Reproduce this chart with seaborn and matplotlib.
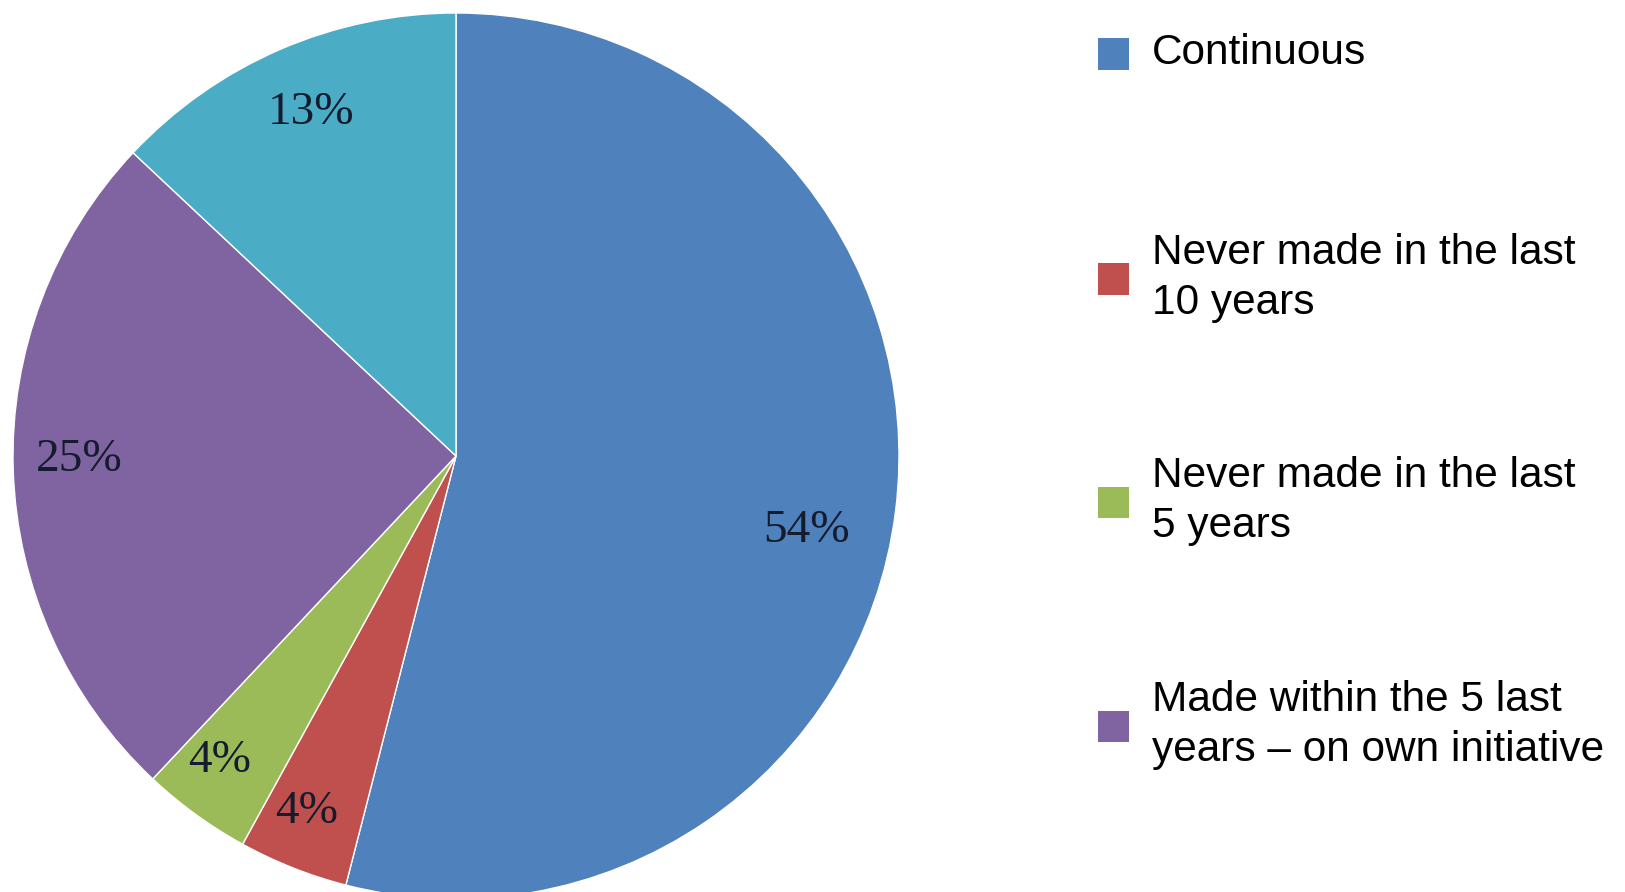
import numpy as np
import matplotlib
matplotlib.use("Agg")
import matplotlib.pyplot as plt
from matplotlib.patches import Rectangle
import seaborn as sns

# Shares of each response (percent), clockwise from 12 o'clock
shares = [54, 4, 4, 25, 13]
slice_colors = ["#4F81BD", "#C0504D", "#9BBB59", "#8064A2", "#4BACC6"]
legend_labels = [
    "Continuous",
    "Never made in the last\n10 years",
    "Never made in the last\n5 years",
    "Made within the 5 last\nyears \u2013 on own initiative",
]

sns.set_theme(style="white")
palette = sns.color_palette(slice_colors)

W, H = 1625, 892
fig = plt.figure(figsize=(W / 100, H / 100), dpi=100)
fig.patch.set_facecolor("white")

# pie geometry in pixels
cx, cy, R = 456, 456, 443
ax = fig.add_axes([(cx - R) / W, (H - cy - R) / H, 2 * R / W, 2 * R / H])

wedges, _ = ax.pie(
    shares,
    colors=palette,
    startangle=90,
    counterclock=False,
    radius=1.0,
    wedgeprops=dict(edgecolor="white", linewidth=1.0),
)
ax.set_xlim(-1, 1)
ax.set_ylim(-1, 1)
ax.set_aspect("equal")
ax.axis("off")

# percentage labels placed inside each wedge
label_radius = [0.81, 0.87, 0.87, 0.85, 0.84]
angle_shift = [-4.8, -1.2, -1.8, -1.3, -0.5]
for w, val, r, da in zip(wedges, shares, label_radius, angle_shift):
    mid = np.deg2rad((w.theta1 + w.theta2) / 2 + da)
    ax.text(r * np.cos(mid), r * np.sin(mid), f"{val}%",
            ha="center", va="center", fontsize=34,
            family="Liberation Serif", color="#141C2E")

# legend entries
entry_y = [54, 279, 502, 726]
sq = 31
sq_x = 1098
text_x = 1152
for y, lab, col in zip(entry_y, legend_labels, palette[:4]):
    fig.patches.append(Rectangle(
        (sq_x / W, 1 - (y + sq / 2) / H), sq / W, sq / H,
        transform=fig.transFigure, figure=fig,
        facecolor=col, edgecolor="none"))
    fig.text(text_x / W, 1 - (y - 1) / H, lab, ha="left", va="center",
             fontsize=30.5, family="Liberation Sans", color="black",
             linespacing=1.32)

fig.savefig("out.png", dpi=100, facecolor="white")
